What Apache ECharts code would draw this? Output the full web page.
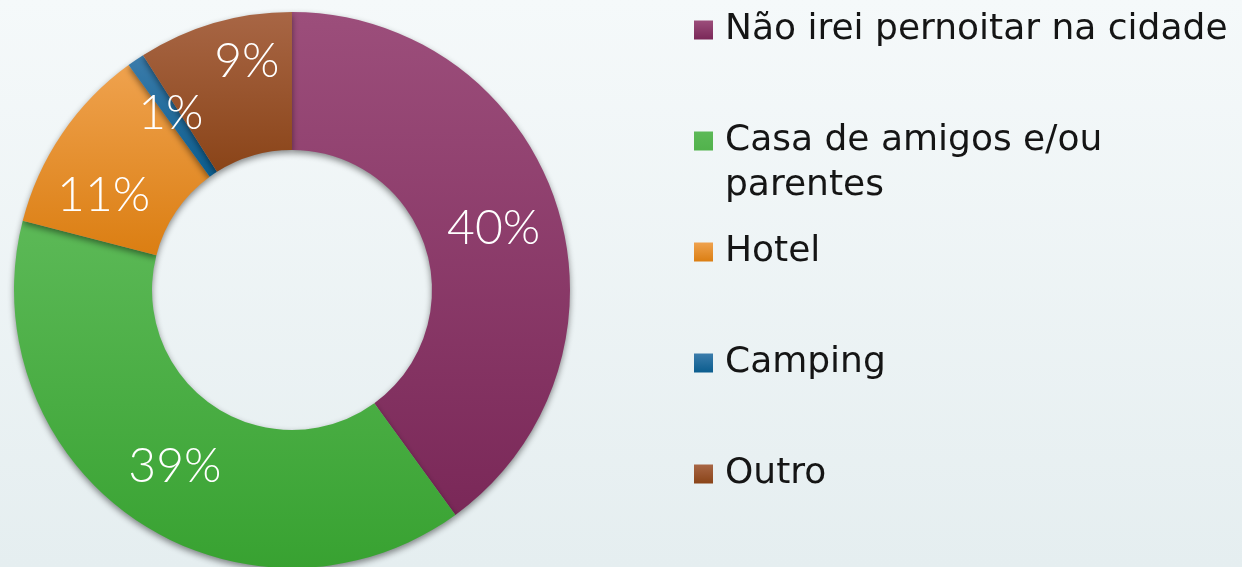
<!DOCTYPE html>
<html>
<head>
<meta charset="utf-8">
<style>
  html, body { margin: 0; padding: 0; }
  #chart { width: 1242px; height: 567px; background: linear-gradient(#f5f9fa, #e5eef0); }
</style>
<script src="https://cdn.jsdelivr.net/npm/echarts@6/dist/echarts.min.js"></script>
</head>
<body>
<div id="chart"></div>
<script>
// categorias e valores (%)
const categories = ['Não irei pernoitar na cidade', 'Casa de amigos e/ou\nparentes', 'Hotel', 'Camping', 'Outro'];
const values = [40, 39, 11, 1, 9];
// cores: topo / base do gradiente
const colorsTop = ['#9c4e7b', '#5cb957', '#efa24e', '#3b7cab', '#a86645'];
const colorsBottom = ['#7a2858', '#38a231', '#db7e12', '#0b5d8e', '#8a4418'];

const legendCenters = [30, 141, 252, 363, 474];
// pequeno ajuste dos rótulos das fatias pequenas
const labelShift = [[0, 4], [2, 1], [-13, 25], [-2, -1], [14, -25]];

const chart = echarts.init(document.getElementById('chart'));

function grad(i) {
  return new echarts.graphic.LinearGradient(0, 0, 0, 1, [
    { offset: 0, color: colorsTop[i] },
    { offset: 1, color: colorsBottom[i] }
  ]);
}

const legends = categories.map((name, i) => {
  const twoLines = name.indexOf('\n') >= 0;
  const item = { name: name };
  if (twoLines) {
    // quadrado alinhado com a primeira linha
    item.icon = 'path://M0,0L19,0L19,19L0,19Z M0,63.99L0.01,63.99L0.01,64L0,64Z';
  }
  return {
    orient: 'vertical',
    left: 694,
    top: legendCenters[i] - 22.5,
    padding: 0,
    itemWidth: 19,
    itemHeight: twoLines ? 64 : 19,
    icon: 'rect',
    selectedMode: false,
    data: [item],
    textStyle: {
      fontFamily: 'DejaVu Sans',
      fontSize: 36,
      lineHeight: 45,
      padding: [0, 0, 0, 7],
      color: '#151515'
    }
  };
});

chart.setOption({
  animation: false,
  legend: legends,
  series: [{
    type: 'pie',
    center: [292, 290],
    radius: [140, 278],
    startAngle: 90,
    clockwise: true,
    avoidLabelOverlap: false,
    label: {
      show: true,
      position: 'inside',
      formatter: '{c}%',
      color: '#fff',
      fontFamily: 'Lato',
      fontWeight: 300,
      fontSize: 48
    },
    labelLine: { show: false },
    labelLayout: function (p) {
      return {
        hideOverlap: false,
        dx: labelShift[p.dataIndex][0],
        dy: labelShift[p.dataIndex][1]
      };
    },
    itemStyle: {
      shadowBlur: 6,
      shadowOffsetY: 3,
      shadowColor: 'rgba(0,0,0,0.45)'
    },
    emphasis: { disabled: true },
    data: categories.map((name, i) => ({
      name: name,
      value: values[i],
      itemStyle: { color: grad(i) }
    }))
  }]
});
</script>
</body>
</html>
